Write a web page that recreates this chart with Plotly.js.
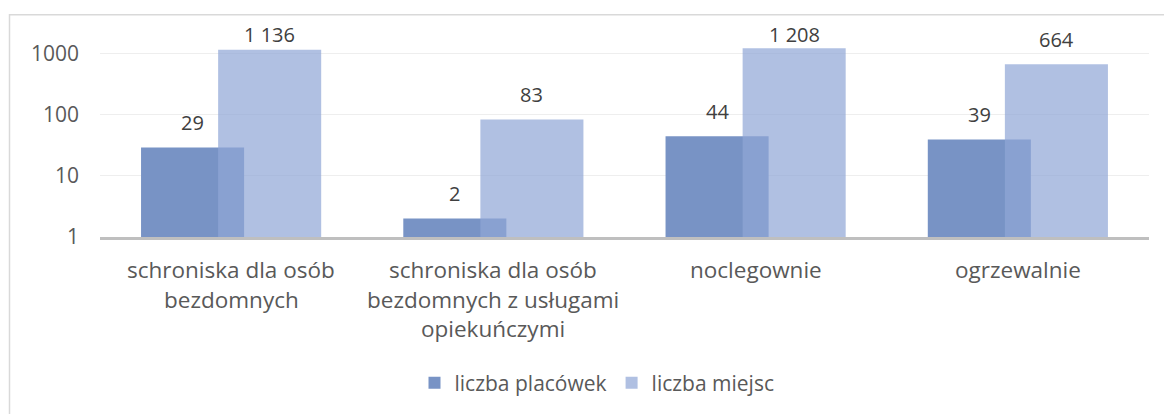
<!DOCTYPE html>
<html>
<head>
<meta charset="utf-8">
<script src="https://cdn.plot.ly/plotly-3.0.1.min.js"></script>
<style>
  html, body { margin: 0; padding: 0; background: #fff; }
  #chart { width: 1164px; height: 414px; }
</style>
</head>
<body>
<div id="chart"></div>
<script>
const categories = ["schroniska dla osób bezdomnych", "schroniska dla osób bezdomnych z usługami opiekuńczymi", "noclegownie", "ogrzewalnie"];
const categoryLines = [
  ["schroniska dla osób", "bezdomnych"],
  ["schroniska dla osób", "bezdomnych z usługami", "opiekuńczymi"],
  ["noclegownie"],
  ["ogrzewalnie"]
];
const seriesNames = ["liczba placówek", "liczba miejsc"];
const liczbaPlacowek = [29, 2, 44, 39];
const liczbaMiejsc = [1136, 83, 1208, 664];
const yTickVals = [1, 10, 100, 1000];
const yTickText = ["1", "10", "100", "1000"];

const FONT = "Open Sans, Noto Sans, sans-serif";
const L = 100, R = 15, T = 41, B = 176, H = 414, W = 1164;
const plotH = H - T - B, plotW = W - L - R;
const baseY = H - B;
const yMaxLog = 3.2;
const ppd = plotH / yMaxLog;
const pyToPaper = py => (baseY - py) / plotH;
const pxToPaper = px => (px - L) / plotW;

const barWidth = 0.393;
const darkOffset = -0.3435;
const lightOffset = -0.0496;

function fmt(v) { return String(v).replace(/\B(?=(\d{3})+(?!\d))/g, " "); }

const traces = [
  {
    type: "bar", name: seriesNames[0], x: categories, y: liczbaPlacowek,
    width: barWidth, offset: darkOffset,
    marker: { color: "#7893C5", line: { width: 0 } },
    hoverinfo: "x+y"
  },
  {
    type: "bar", name: seriesNames[1], x: categories, y: liczbaMiejsc,
    width: barWidth, offset: lightOffset,
    marker: { color: "rgba(144,166,214,0.71)", line: { width: 0 } },
    hoverinfo: "x+y"
  }
];

const annotations = [];
const labelGap = 25, labelTopPx = 34;
[[liczbaPlacowek, darkOffset], [liczbaMiejsc, lightOffset]].forEach(([vals, off]) => {
  vals.forEach((v, i) => {
    const py = Math.max(baseY - Math.log10(v) * ppd - labelGap, labelTopPx);
    annotations.push({
      x: i + off + barWidth / 2, xref: "x",
      y: pyToPaper(py), yref: "paper",
      text: fmt(v), showarrow: false, yanchor: "middle", xanchor: "center",
      font: { family: FONT, size: 20, color: "#404040" }
    });
  });
});
categoryLines.forEach((lines, i) => {
  lines.forEach((ln, j) => {
    annotations.push({
      x: i, xref: "x", y: pyToPaper(271 + 29.5 * j), yref: "paper",
      text: ln, showarrow: false, yanchor: "middle", xanchor: "center",
      font: { family: FONT, size: 22.5, color: "#595959" }
    });
  });
});

const layout = {
  width: W, height: H,
  margin: { l: L, r: R, t: T, b: B, pad: 0 },
  paper_bgcolor: "#fff", plot_bgcolor: "#fff",
  font: { family: FONT, color: "#595959", size: 20 },
  barmode: "overlay",
  showlegend: true,
  legend: {
    orientation: "h", x: pxToPaper(597), xanchor: "center",
    y: pyToPaper(383), yanchor: "middle",
    font: { family: FONT, size: 21, color: "#595959" },
    traceorder: "normal", itemwidth: 30, bgcolor: "rgba(0,0,0,0)"
  },
  xaxis: {
    type: "category", range: [-0.5, 3.5], showticklabels: false,
    showgrid: false, zeroline: false, ticks: "",
    showline: true, linecolor: "#bfbfbf", linewidth: 2.5, fixedrange: true
  },
  yaxis: {
    type: "log", range: [0, yMaxLog],
    tickvals: yTickVals, ticktext: yTickText,
    showgrid: true, gridcolor: "#eeeeee", gridwidth: 1.2,
    zeroline: false, showline: false, ticks: "",
    ticklabelstandoff: 20,
    tickfont: { family: FONT, size: 21, color: "#595959" },
    fixedrange: true
  },
  annotations: annotations,
  shapes: [{
    type: "rect", xref: "paper", yref: "paper",
    x0: pxToPaper(9.5), x1: pxToPaper(1172), y0: pyToPaper(422), y1: pyToPaper(14.5),
    line: { color: "#d9d9d9", width: 1.5 }, fillcolor: "rgba(0,0,0,0)", layer: "below"
  }]
};

Plotly.newPlot("chart", traces, layout, { displayModeBar: false, staticPlot: true });
</script>
</body>
</html>
